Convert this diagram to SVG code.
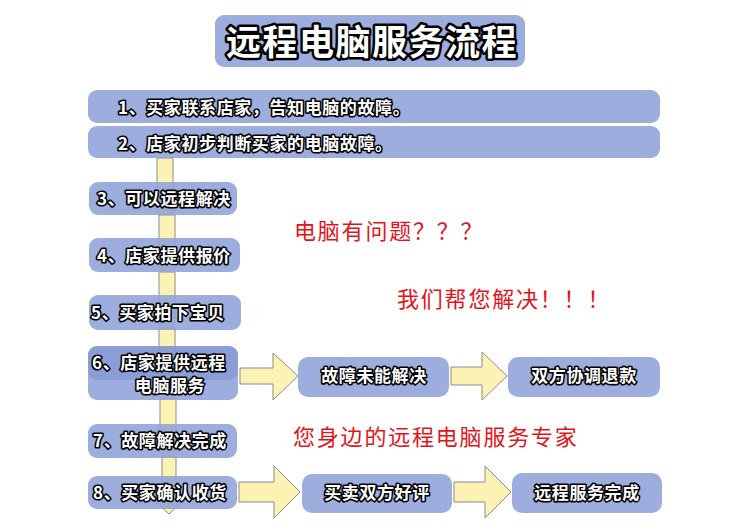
<svg xmlns="http://www.w3.org/2000/svg" width="750" height="530" viewBox="0 0 750 530">
<style>
text{text-spacing-trim:space-all}
.box{fill:#8fa2d9;opacity:0.88}
.box2{fill:#7f93d0;opacity:0.6}
.t{font-family:"Noto Sans CJK SC","Noto Sans CJK JP",sans-serif;font-weight:bold;fill:#fff;stroke:#000;stroke-width:3.2;stroke-linejoin:round;paint-order:stroke;font-size:17px;letter-spacing:0.6px}
.title{font-size:35px;stroke-width:5;letter-spacing:1.5px}
.red{font-family:"Noto Sans CJK SC",sans-serif;fill:#e3131b;font-size:22px;letter-spacing:1.8px}
.arr{fill:#fbf2b3;stroke:#8c8c8c;stroke-width:1}
</style>
<rect width="750" height="530" fill="#fff"/>
<g id="title">
<rect x="215" y="15" width="310" height="52" rx="9" class="box"/>
<text x="372" y="55" text-anchor="middle" class="t title">远程电脑服务流程</text>
</g>
<g id="connectors">
<path class="arr" d="M157,158 H173 V206 H179 L165,218 L151,206 H157 Z"/>
<path class="arr" d="M159,215 H175 V262 H181 L167,274 L153,262 H159 Z"/>
<path class="arr" d="M159,272 H175 V318 H181 L167,330 L153,318 H159 Z"/>
<path class="arr" d="M159,328 H175 V368 H181 L167,380 L153,368 H159 Z"/>
<path class="arr" d="M160,398 H176 V447 H182 L168,459 L154,447 H160 Z"/>
<path class="arr" d="M162,457 H176 V501 H183 L169,514 L155,501 H162 Z"/>
<path class="arr" d="M240,368 H273 V353 L298,376 L273,400 V384 H240 Z"/>
<path class="arr" d="M451,367 H482 V352 L507,376 L482,400 V385 H451 Z"/>
<path class="arr" d="M239,482 H274 V466 L300,492 L274,518 V502 H239 Z"/>
<path class="arr" d="M454,482 H485 V466 L511,492 L485,518 V502 H454 Z"/>
</g>
<g id="n1"><rect x="88" y="90" width="572" height="33" rx="9" class="box"/><text x="118" y="114" class="t">1、买家联系店家，告知电脑的故障。</text></g>
<g id="n2"><rect x="88" y="126" width="572" height="32" rx="9" class="box"/><text x="118" y="150" class="t">2、店家初步判断买家的电脑故障。</text></g>
<g id="n3"><rect x="89" y="182" width="148" height="33" rx="9" class="box"/><text x="97" y="205" class="t">3、可以远程解决</text></g>
<g id="n4"><rect x="89" y="238" width="151" height="34" rx="9" class="box"/><text x="97" y="262" class="t">4、店家提供报价</text></g>
<g id="n5"><rect x="89" y="295" width="152" height="35" rx="9" class="box"/><text x="91" y="319" class="t">5、买家拍下宝贝</text></g>
<g id="n6"><rect x="88" y="346" width="150" height="54" rx="9" class="box"/><rect x="88" y="346" width="150" height="34" rx="9" class="box2"/><text x="92" y="369" class="t">6、店家提供远程</text><text x="170" y="392" text-anchor="middle" class="t">电脑服务</text></g>
<g id="n7"><rect x="88" y="424" width="149" height="34" rx="9" class="box"/><text x="93" y="447" class="t">7、故障解决完成</text></g>
<g id="n8"><rect x="88" y="476" width="149" height="33" rx="9" class="box"/><text x="93" y="499" class="t">8、买家确认收货</text></g>
<g id="n9"><rect x="298" y="357" width="151" height="40" rx="10" class="box"/><text x="374" y="382" text-anchor="middle" class="t">故障未能解决</text></g>
<g id="n10"><rect x="508" y="357" width="152" height="40" rx="10" class="box"/><text x="584" y="382" text-anchor="middle" class="t">双方协调退款</text></g>
<g id="n11"><rect x="302" y="474" width="150" height="39" rx="10" class="box"/><text x="377" y="499" text-anchor="middle" class="t">买卖双方好评</text></g>
<g id="n12"><rect x="512" y="473" width="150" height="40" rx="10" class="box"/><text x="587" y="499" text-anchor="middle" class="t">远程服务完成</text></g>
<g id="notes">
<text x="294" y="239" class="red" font-size="23">电脑有问题？？？</text>
<text x="397" y="307" class="red" font-size="23">我们帮您解决！！！</text>
<text x="293" y="445" class="red" font-size="23.5">您身边的远程电脑服务专家</text>
</g>
</svg>
